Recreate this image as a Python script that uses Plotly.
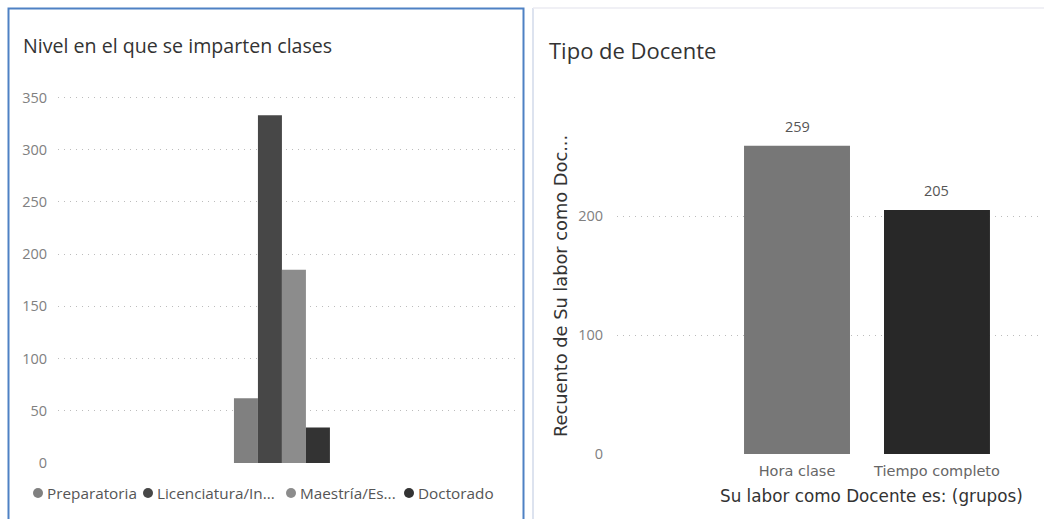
import plotly.graph_objects as go

# --- Nivel en el que se imparten clases ---
niveles = ["Preparatoria", "Licenciatura/In...", "Maestría/Es...", "Doctorado"]
niveles_valores = [62, 333, 185, 34]
niveles_colores = ["#808080", "#474747", "#8c8c8c", "#333333"]
niveles_ticks = [0, 50, 100, 150, 200, 250, 300, 350]

# --- Tipo de Docente ---
tipo_docente = ["Hora clase", "Tiempo completo"]
tipo_valores = [259, 205]
tipo_colores = ["#777777", "#282828"]
tipo_ticks = [0, 100, 200]

W, H = 1044, 519


def px_x(p):
    return p / W


def px_y(p):
    return 1 - p / H


UI_FONT = "Open Sans, Segoe UI, sans-serif"
AXIS_FONT = "DejaVu Sans, sans-serif"
TICK_FONT = dict(family=UI_FONT, size=14.5, color="#808080")
GRID = dict(showgrid=True, gridcolor="#bcbcbc", griddash="1px,5px", gridwidth=1)

fig = go.Figure()

# Left chart: one bar per level in a single clustered group
for name, val, col in zip(niveles, niveles_valores, niveles_colores):
    fig.add_trace(go.Bar(
        x=[""], y=[val], name=name, marker=dict(color=col, line=dict(width=0)),
        xaxis="x", yaxis="y", showlegend=False, hoverinfo="y+name",
    ))

# Right chart: count by teacher type
fig.add_trace(go.Bar(
    x=tipo_docente, y=tipo_valores, marker=dict(color=tipo_colores, line=dict(width=0)),
    xaxis="x2", yaxis="y2", showlegend=False, width=0.757,
))

# Left plot area: value 0 at y=463 px, 1.0444 px per unit
left_bottom, left_top = 463, 463 - 355 * 1.0444
# Right plot area: value 0 at y=454 px, 1.19 px per unit
right_bottom, right_top = 454, 454 - 290 * 1.19

fig.update_layout(
    template="none",
    width=W, height=H,
    margin=dict(l=0, r=0, t=0, b=0, pad=0),
    paper_bgcolor="white", plot_bgcolor="white",
    barmode="group", bargap=0.79, bargroupgap=0,
    showlegend=False,
    xaxis=dict(anchor="y", domain=[px_x(58), px_x(515)], range=[-0.49, 0.51],
               showticklabels=False, showgrid=False, zeroline=False, showline=False,
               ticks="", automargin=False),
    yaxis=dict(anchor="x", domain=[px_y(left_bottom), px_y(left_top)], range=[0, 355],
               tickvals=niveles_ticks, tickfont=TICK_FONT, ticks="", ticklabelstandoff=10,
               zeroline=False, showline=False, automargin=False, **GRID),
    xaxis2=dict(anchor="y2", domain=[px_x(617), px_x(1040)], range=[-1.286, 1.736],
                tickfont=dict(family=AXIS_FONT, size=14.5, color="#666666"), ticks="",
                showgrid=False, zeroline=False, showline=False, ticklabelstandoff=6,
                automargin=False),
    yaxis2=dict(anchor="x2", domain=[px_y(right_bottom), px_y(right_top)], range=[0, 290],
                tickvals=tipo_ticks, tickfont=TICK_FONT, ticks="", ticklabelstandoff=13,
                zeroline=False, showline=False, automargin=False, **GRID),
)

annotations = [
    dict(text="Nivel en el que se imparten clases", x=px_x(21), y=px_y(45),
         xanchor="left", yanchor="middle",
         font=dict(family=UI_FONT, size=19.6, color="#333333")),
    dict(text="Tipo de Docente", x=px_x(547), y=px_y(50),
         xanchor="left", yanchor="middle",
         font=dict(family=UI_FONT, size=22, color="#333333")),
    dict(text="Recuento de Su labor como Doc...", x=px_x(560), y=px_y(286),
         xanchor="center", yanchor="middle", textangle=-90,
         font=dict(family=AXIS_FONT, size=17.8, color="#333333")),
    dict(text="Su labor como Docente es: (grupos)", x=px_x(871), y=px_y(496),
         xanchor="center", yanchor="middle",
         font=dict(family=AXIS_FONT, size=16.8, color="#333333")),
]

# Value labels above the right-hand bars
for cat, val in zip(tipo_docente, tipo_valores):
    annotations.append(dict(
        text=str(val), x=cat, y=val, xref="x2", yref="y2",
        xanchor="center", yanchor="bottom", yshift=8,
        font=dict(family=UI_FONT, size=14.5, color="#555555"),
    ))

# Legend row under the left chart: circle swatch + label
legend_dot_x = [38, 148, 291, 409]
legend_text_x = [45, 155, 298, 416]
shapes = []
for name, col, dx, tx in zip(niveles, niveles_colores, legend_dot_x, legend_text_x):
    shapes.append(dict(type="circle", xref="paper", yref="paper",
                       x0=px_x(dx - 5), x1=px_x(dx + 5), y0=px_y(498), y1=px_y(488),
                       fillcolor=col, line=dict(width=0)))
    annotations.append(dict(
        text=name, x=px_x(tx), y=px_y(493), xanchor="left", yanchor="middle",
        xref="paper", yref="paper",
        font=dict(family=UI_FONT, size=15.3, color="#555555"),
    ))

for a in annotations:
    a.setdefault("xref", "paper")
    a.setdefault("yref", "paper")
    a["showarrow"] = False

# Frames around the two panels
shapes += [
    dict(type="rect", xref="paper", yref="paper", x0=px_x(8.5), x1=px_x(523.5),
         y0=px_y(530), y1=px_y(8.5), line=dict(color="#4f81c4", width=2), layer="below"),
    dict(type="line", xref="paper", yref="paper", x0=px_x(533), x1=px_x(533),
         y0=px_y(530), y1=px_y(8), line=dict(color="#dde3ef", width=2), layer="below"),
    dict(type="line", xref="paper", yref="paper", x0=px_x(533), x1=px_x(1044),
         y0=px_y(8), y1=px_y(8), line=dict(color="#ebebf2", width=1.5), layer="below"),
]

fig.update_layout(annotations=annotations, shapes=shapes)

fig.write_html("out.html")
